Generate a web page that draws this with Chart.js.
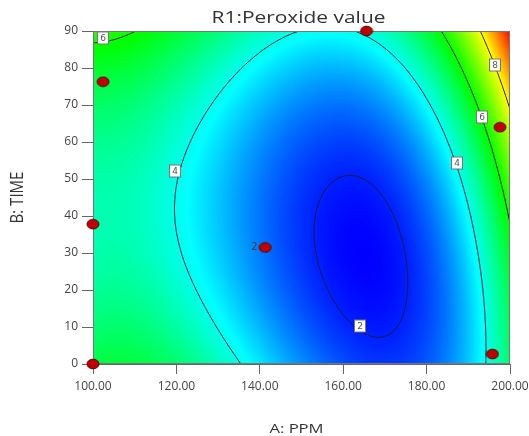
<!DOCTYPE html>
<html>
<head>
<meta charset="utf-8">
<script src="https://cdn.jsdelivr.net/npm/chart.js@4.4.1/dist/chart.umd.min.js"></script>
<style>
  html, body { margin: 0; padding: 0; background: #fff; }
  #wrap { width: 529px; height: 436px; }
</style>
</head>
<body>
<div id="wrap"><canvas id="chart"></canvas></div>
<script>
const xTicks = [100, 120, 140, 160, 180, 200];
const yTicks = [0, 10, 20, 30, 40, 50, 60, 70, 80, 90];
const contourLevels = [2, 4, 6, 8];

// design points (red dots)
const designA = [100, 100, 102.4, 165.6, 141.3, 197.6, 195.8];
const designB = [0, 37.8, 76.3, 90, 31.5, 64, 2.7];
const designReps = [1, 1, 1, 1, 2, 1, 1];

// contour label boxes
const labelA = [102.4, 119.7, 164, 187.2, 193.4, 196.4];
const labelB = [88.1, 52.2, 10.4, 54.4, 66.7, 80.8];
const labelText = ["6", "4", "2", "4", "6", "8"];

// response surface, coded units: 1, A, B, A², AB, B², A³, A²B, AB², B³
// (fitted to the contour lines)
const surfaceCoef = [2.17488, -2.20159, 0.46072, 3.23487, 1.03651, 1.28325, 3.14367, 0.93643, -0.04048, 0.06803];

function response(a, b) {
  const x = (a - 150) / 50, y = (b - 45) / 45;
  const t = [1, x, y, x * x, x * y, y * y, x * x * x, x * x * y, x * y * y, y * y * y];
  return t.reduce((s, v, i) => s + v * surfaceCoef[i], 0);
}

// surface range over the design space
let zMin = Infinity, zMax = -Infinity;
for (let a = 100; a <= 200; a += 0.5) {
  for (let b = 0; b <= 90; b += 0.5) {
    const v = response(a, b);
    if (v < zMin) zMin = v;
    if (v > zMax) zMax = v;
  }
}

const stops = [[0, 0, 255], [0, 255, 255], [0, 255, 0], [255, 255, 0], [255, 0, 0]];
function colorAt(v) {
  let t = (v - zMin) / (zMax - zMin);
  t = Math.max(0, Math.min(1, t)) * (stops.length - 1);
  const i = Math.min(Math.floor(t), stops.length - 2);
  const f = t - i;
  return stops[i].map((c, k) => Math.round(c + (stops[i + 1][k] - c) * f));
}

// slightly wide red dot, like the original
const dot = document.createElement("canvas");
dot.width = 14; dot.height = 12;
(() => {
  const c = dot.getContext("2d");
  c.beginPath();
  c.ellipse(7, 6, 6, 4.8, 0, 0, Math.PI * 2);
  c.fillStyle = "#c00000";
  c.fill();
  c.strokeStyle = "#5a0000";
  c.lineWidth = 1;
  c.stroke();
})();

// text in the original is stretched sideways a little
function wideText(ctx, text, cx, cy, size, sx, rot) {
  ctx.save();
  ctx.translate(cx, cy);
  ctx.scale(sx, 1);
  if (rot) ctx.rotate(rot);
  ctx.font = size + "px 'Open Sans'";
  ctx.fillStyle = "#333";
  ctx.textAlign = "center";
  ctx.textBaseline = "middle";
  ctx.fillText(text, 0, 0);
  ctx.restore();
}

const surfacePlugin = {
  id: "surface",
  beforeDatasetsDraw(chart) {
    const { ctx, chartArea: area, scales: { x, y } } = chart;
    const left = Math.round(area.left), top = Math.round(area.top);
    const w = Math.round(area.right) - left, h = Math.round(area.bottom) - top;
    const img = ctx.createImageData(w, h);
    for (let j = 0; j < h; j++) {
      const b = y.getValueForPixel(top + j + 0.5);
      for (let i = 0; i < w; i++) {
        const a = x.getValueForPixel(left + i + 0.5);
        const c = colorAt(response(a, b));
        const o = (j * w + i) * 4;
        img.data[o] = c[0]; img.data[o + 1] = c[1]; img.data[o + 2] = c[2]; img.data[o + 3] = 255;
      }
    }
    ctx.putImageData(img, left, top);

    // contour lines (marching squares on a data grid)
    const nx = 200, ny = 180;
    const ga = [], gb = [];
    for (let i = 0; i <= nx; i++) ga.push(100 + 100 * i / nx);
    for (let j = 0; j <= ny; j++) gb.push(90 * j / ny);
    const grid = gb.map(b => ga.map(a => response(a, b)));
    ctx.save();
    ctx.beginPath();
    ctx.rect(area.left, area.top, area.right - area.left, area.bottom - area.top);
    ctx.clip();
    ctx.strokeStyle = "#141a3c";
    ctx.lineWidth = 1;
    ctx.beginPath();
    contourLevels.forEach(L => {
      for (let j = 0; j < ny; j++) {
        for (let i = 0; i < nx; i++) {
          const c = [[ga[i], gb[j], grid[j][i]], [ga[i + 1], gb[j], grid[j][i + 1]],
                     [ga[i + 1], gb[j + 1], grid[j + 1][i + 1]], [ga[i], gb[j + 1], grid[j + 1][i]]];
          const hits = [];
          for (let e = 0; e < 4; e++) {
            const p = c[e], q = c[(e + 1) % 4];
            if ((p[2] < L) !== (q[2] < L)) {
              const f = (L - p[2]) / (q[2] - p[2]);
              hits.push([p[0] + (q[0] - p[0]) * f, p[1] + (q[1] - p[1]) * f]);
            }
          }
          for (let k = 0; k + 1 < hits.length; k += 2) {
            ctx.moveTo(x.getPixelForValue(hits[k][0]), y.getPixelForValue(hits[k][1]));
            ctx.lineTo(x.getPixelForValue(hits[k + 1][0]), y.getPixelForValue(hits[k + 1][1]));
          }
        }
      }
    });
    ctx.stroke();
    ctx.restore();

    // contour labels
    ctx.save();
    ctx.font = "9px 'DejaVu Sans'";
    ctx.textAlign = "center";
    ctx.textBaseline = "middle";
    labelText.forEach((t, k) => {
      const px = Math.round(x.getPixelForValue(labelA[k])), py = Math.round(y.getPixelForValue(labelB[k]));
      ctx.fillStyle = "#fff";
      ctx.fillRect(px - 5.5, py - 6, 11, 12);
      ctx.strokeStyle = "#777";
      ctx.strokeRect(px - 5.5, py - 6, 11, 12);
      ctx.fillStyle = "#555";
      ctx.fillText(t, px, py + 0.5);
    });
    ctx.restore();

    // frame
    ctx.save();
    ctx.strokeStyle = "#777";
    ctx.lineWidth = 1;
    ctx.strokeRect(left + 0.5, top + 0.5, w - 1, h - 1);
    ctx.restore();
  },
  afterDatasetsDraw(chart) {
    const { ctx, chartArea: area, scales: { x, y } } = chart;
    ctx.save();
    ctx.font = "10px 'Open Sans'";
    ctx.fillStyle = "#333";
    ctx.textAlign = "right";
    ctx.textBaseline = "middle";
    designReps.forEach((r, k) => {
      if (r > 1) ctx.fillText(String(r), x.getPixelForValue(designA[k]) - 8, y.getPixelForValue(designB[k]));
    });
    ctx.restore();

    const mid = (area.left + area.right) / 2;
    wideText(ctx, "R1:Peroxide value", mid - 3, 18, 17, 1.23);
    wideText(ctx, "A: PPM", mid - 5, 429, 13.5, 1.23);
    wideText(ctx, "B: TIME", 18.5, (area.top + area.bottom) / 2, 15, 1.17, -Math.PI / 2);
  }
};

new Chart(document.getElementById("chart"), {
  type: "scatter",
  data: {
    datasets: [{
      label: "Design points",
      data: designA.map((a, i) => ({ x: a, y: designB[i] })),
      pointStyle: dot,
      pointRadius: 6,
      pointHoverRadius: 6,
      clip: false,
    }],
  },
  options: {
    responsive: true,
    maintainAspectRatio: false,
    animation: false,
    layout: { padding: { left: 0, right: 19, top: 31, bottom: 0 } },
    plugins: {
      legend: { display: false },
      tooltip: { enabled: false },
      title: { display: false },
    },
    scales: {
      x: {
        type: "linear",
        min: 100,
        max: 200,
        afterBuildTicks: (s) => { s.ticks = xTicks.map(v => ({ value: v })); },
        afterFit: (s) => { s.height = 72; s.paddingLeft = 0; s.paddingRight = 0; },
        ticks: {
          color: "#444",
          padding: 5,
          maxRotation: 0,
          font: { family: "'Open Sans'", size: 12 },
          callback: (v) => Number(v).toFixed(2),
        },
        grid: { drawOnChartArea: false, drawTicks: true, tickLength: 10, color: "#666" },
        border: { display: true, color: "#666" },
      },
      y: {
        type: "linear",
        min: 0,
        max: 90,
        afterBuildTicks: (s) => { s.ticks = yTicks.map(v => ({ value: v })); },
        afterFit: (s) => { s.width = 93; s.paddingTop = 0; s.paddingBottom = 0; },
        ticks: {
          color: "#444",
          padding: 4,
          font: { family: "'Open Sans'", size: 12 },
        },
        grid: { drawOnChartArea: false, drawTicks: true, tickLength: 11, color: "#666" },
        border: { display: true, color: "#666" },
      },
    },
  },
  plugins: [surfacePlugin],
});
</script>
</body>
</html>
